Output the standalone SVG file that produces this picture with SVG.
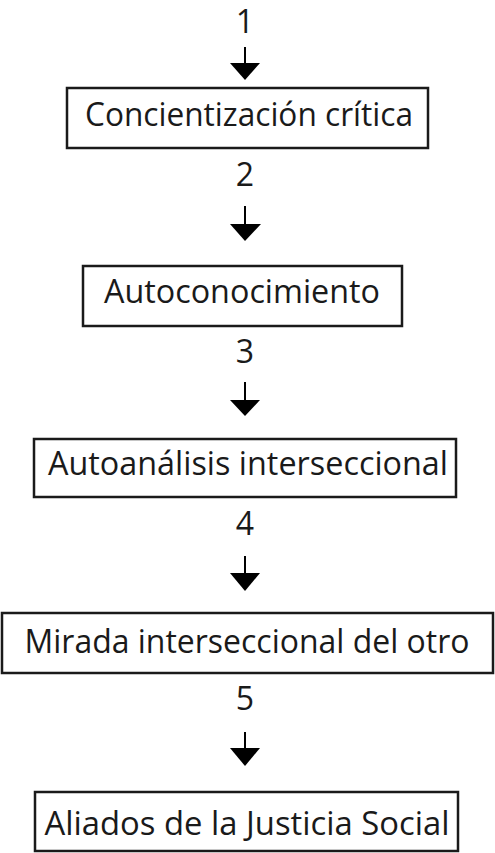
<svg xmlns="http://www.w3.org/2000/svg" width="495" height="853" viewBox="0 0 495 853">
<style>
.box{fill:#fff;stroke:#1a1a1a;stroke-width:2.5}
.lbl{font-family:"Open Sans","Noto Sans","Liberation Sans",sans-serif;font-size:32px;fill:#1a1a1a;text-anchor:middle}
.num{font-family:"Open Sans","Noto Sans","Liberation Sans",sans-serif;font-size:32px;fill:#1a1a1a;text-anchor:middle}
.ln{stroke:#000;stroke-width:2;fill:none}
.hd{fill:#000}
</style>
<rect width="495" height="853" fill="#fff"/>
<g id="connectors">
<text class="num" x="245" y="33">1</text>
<line class="ln" x1="245" y1="47" x2="245" y2="64"/>
<polygon class="hd" points="230,63 260,63 245,80"/>
<text class="num" x="245" y="186">2</text>
<line class="ln" x1="245" y1="206" x2="245" y2="225"/>
<polygon class="hd" points="230,224 261,224 245,241"/>
<text class="num" x="245" y="363">3</text>
<line class="ln" x1="245" y1="382" x2="245" y2="401"/>
<polygon class="hd" points="230,400 260,400 245,416"/>
<text class="num" x="245" y="535">4</text>
<line class="ln" x1="245" y1="556" x2="245" y2="574"/>
<polygon class="hd" points="230,573 260,573 245,591"/>
<text class="num" x="245" y="710">5</text>
<line class="ln" x1="245" y1="732" x2="245" y2="749"/>
<polygon class="hd" points="230,748 260,748 245,766"/>
</g>
<g id="n1">
<rect class="box" x="67" y="88" width="361" height="60"/>
<text class="lbl" x="249" y="126" textLength="328" lengthAdjust="spacingAndGlyphs">Concientización crítica</text>
</g>
<g id="n2">
<rect class="box" x="83" y="266" width="319" height="60"/>
<text class="lbl" x="242" y="303" textLength="276" lengthAdjust="spacingAndGlyphs">Autoconocimiento</text>
</g>
<g id="n3">
<rect class="box" x="34" y="439" width="422" height="58"/>
<text class="lbl" x="248" y="475" textLength="400" lengthAdjust="spacingAndGlyphs">Autoanálisis interseccional</text>
</g>
<g id="n4">
<rect class="box" x="2" y="613" width="491" height="60"/>
<text class="lbl" x="247" y="653" textLength="445" lengthAdjust="spacingAndGlyphs">Mirada interseccional del otro</text>
</g>
<g id="n5">
<rect class="box" x="35" y="792" width="423" height="59"/>
<text class="lbl" x="247" y="835" textLength="405" lengthAdjust="spacingAndGlyphs">Aliados de la Justicia Social</text>
</g>
</svg>
